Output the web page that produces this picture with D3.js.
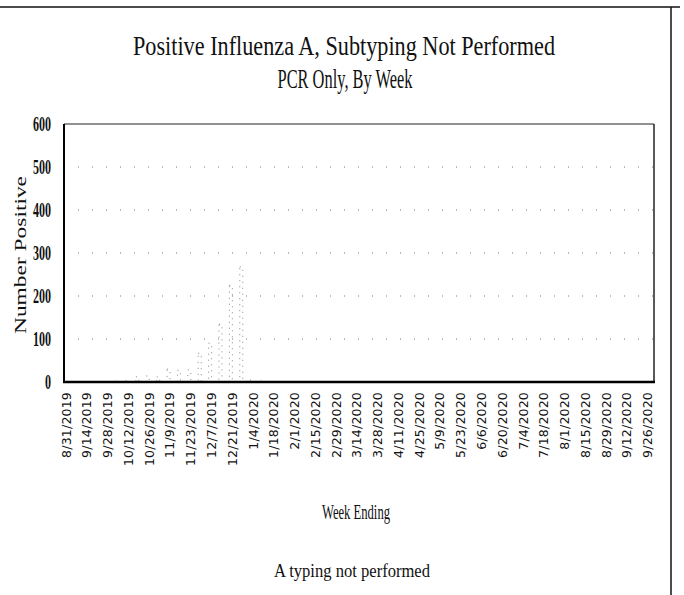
<!DOCTYPE html>
<html>
<head>
<meta charset="utf-8">
<script src="https://cdn.jsdelivr.net/npm/d3@7"></script>
<style>
  body { margin: 0; background: #fff; }
  svg { display: block; }
</style>
</head>
<body>
<script>
// week ending dates, 8/31/2019 .. 9/26/2020
var weeks = ["8/31/2019","9/7/2019","9/14/2019","9/21/2019","9/28/2019","10/5/2019","10/12/2019",
  "10/19/2019","10/26/2019","11/2/2019","11/9/2019","11/16/2019","11/23/2019","11/30/2019",
  "12/7/2019","12/14/2019","12/21/2019","12/28/2019",
  "1/4/2020","1/11/2020","1/18/2020","1/25/2020","2/1/2020","2/8/2020","2/15/2020","2/22/2020",
  "2/29/2020","3/7/2020","3/14/2020","3/21/2020","3/28/2020","4/4/2020","4/11/2020","4/18/2020",
  "4/25/2020","5/2/2020","5/9/2020","5/16/2020","5/23/2020","5/30/2020","6/6/2020","6/13/2020",
  "6/20/2020","6/27/2020","7/4/2020","7/11/2020","7/18/2020","7/25/2020","8/1/2020","8/8/2020",
  "8/15/2020","8/22/2020","8/29/2020","9/5/2020","9/12/2020","9/19/2020","9/26/2020"];

// number positive per week
var positives = [0,1,0,1,0,2,3,
  12,14,12,30,27,28,67,
  90,134,225,268,
  4,2,0,1,0,0,1,0,
  0,1,0,0,0,0,0,0,
  0,0,0,0,0,0,0,0,
  0,0,0,0,0,0,0,0,
  0,0,0,0,0,0,0];

var yTicks = [0,100,200,300,400,500,600];
var xTickLabels = weeks.filter(function(d, i) { return i % 2 == 0; });

var W = 684, H = 595,
    pLeft = 64, pRight = 654, pTop = 124, pBottom = 382;

var svg = d3.select("body").append("svg").attr("width", W).attr("height", H);

// scanned page frame
svg.append("line").attr("x1", 0).attr("x2", 680).attr("y1", 7).attr("y2", 7)
   .attr("stroke", "#111").attr("stroke-width", 1.5);
svg.append("line").attr("x1", 671).attr("x2", 671).attr("y1", 7).attr("y2", H)
   .attr("stroke", "#111").attr("stroke-width", 1.5);

var x = d3.scaleBand().domain(weeks).range([61, 653]);
var y = d3.scaleLinear().domain([0, 600]).range([pBottom, pTop]);

// gridlines (sparse dots, as on the scan)
svg.append("g").selectAll("line")
   .data(yTicks.filter(function(d) { return d > 0 && d < 600; }))
   .enter().append("line")
   .attr("x1", pLeft).attr("x2", pRight)
   .attr("y1", function(d) { return y(d); }).attr("y2", function(d) { return y(d); })
   .attr("stroke", "#777").attr("stroke-width", 1).attr("stroke-dasharray", "1,13");

// bars
svg.append("g").selectAll("rect")
   .data(positives)
   .enter().append("rect")
   .attr("x", function(d, i) { return x(weeks[i]) + x.bandwidth() / 2 - 3; })
   .attr("width", 3)
   .attr("y", function(d) { return y(d); })
   .attr("height", function(d) { return pBottom - y(d); })
   .attr("fill", "none")
   .attr("stroke", "#888").attr("stroke-width", 1).attr("stroke-dasharray", "1,5");

// plot frame
svg.append("line").attr("x1", pLeft).attr("x2", pRight).attr("y1", pTop).attr("y2", pTop)
   .attr("stroke", "#222").attr("stroke-width", 1);
svg.append("line").attr("x1", pRight).attr("x2", pRight).attr("y1", pTop).attr("y2", pBottom)
   .attr("stroke", "#222").attr("stroke-width", 1.5);
svg.append("line").attr("x1", pLeft).attr("x2", pLeft).attr("y1", pTop).attr("y2", pBottom + 1)
   .attr("stroke", "#000").attr("stroke-width", 2);
svg.append("line").attr("x1", pLeft - 1).attr("x2", pRight + 1).attr("y1", pBottom).attr("y2", pBottom)
   .attr("stroke", "#000").attr("stroke-width", 2.5);

// y axis labels
var yAxis = svg.append("g").attr("transform", "translate(" + (pLeft - 13) + ",0)")
   .call(d3.axisLeft(y).tickValues(yTicks).tickSize(0).tickPadding(0));
yAxis.select(".domain").remove();
yAxis.selectAll("text")
   .attr("font-family", "Liberation Serif, serif").attr("font-size", 20)
   .attr("font-weight", "bold").attr("fill", "#111")
   .attr("transform", "scale(0.6,1)");

// x axis labels
var xAxis = svg.append("g").attr("transform", "translate(0," + pBottom + ")")
   .call(d3.axisBottom(x).tickValues(xTickLabels).tickSize(0));
xAxis.select(".domain").remove();
xAxis.selectAll("text")
   .attr("font-family", "DejaVu Sans, sans-serif").attr("font-size", 12.5).attr("fill", "#111")
   .attr("letter-spacing", 0.2)
   .attr("transform", "rotate(-90)")
   .attr("x", -10).attr("y", 0).attr("dy", "0.35em")
   .style("text-anchor", "end");

// titles
function label(txt, cx, cy, size, len, rot) {
    svg.append("text")
       .attr("transform", "translate(" + cx + "," + cy + ")" + (rot ? " rotate(" + rot + ")" : ""))
       .attr("text-anchor", "middle").attr("dominant-baseline", "central")
       .attr("font-family", "Liberation Serif, serif").attr("font-size", size)
       .attr("fill", "#111")
       .attr("textLength", len).attr("lengthAdjust", "spacingAndGlyphs")
       .text(txt);
}
label("Positive Influenza A, Subtyping Not Performed", 344, 45, 28, 422);
label("PCR Only, By Week", 345, 78, 28, 135);
label("Number Positive", 20, 255, 17, 158, -90);
label("Week Ending", 356, 512, 20, 68);
label("A typing not performed", 352, 571, 18, 156);
</script>
</body>
</html>
